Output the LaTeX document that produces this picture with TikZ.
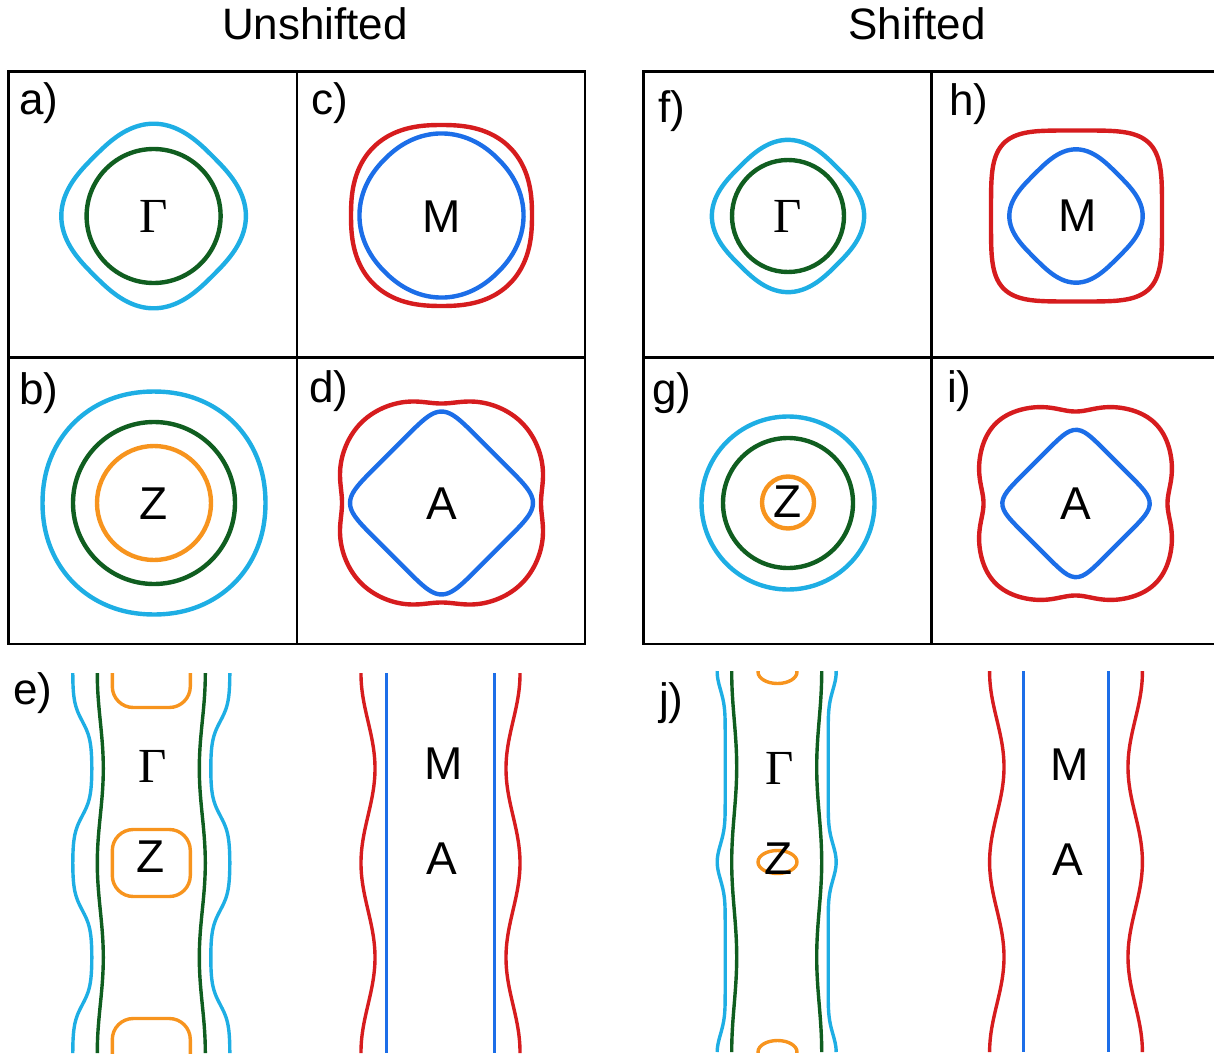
\documentclass[tikz,border=0pt]{standalone}
\usepackage{fontspec}
\setmainfont{Liberation Sans}
\newfontfamily\gfont{Liberation Serif}
\definecolor{cyc}{RGB}{30,174,228}
\definecolor{grc}{RGB}{16,94,32}
\definecolor{orc}{RGB}{247,148,30}
\definecolor{rdc}{RGB}{214,28,30}
\definecolor{blc}{RGB}{28,110,232}
\begin{document}
\begin{tikzpicture}[x=1pt,y=-1pt,
  declare function={sq(\a,\b)=1/pow(pow(abs(cos(\a)),\b)+pow(abs(sin(\a)),\b),1/\b);
                    dip(\a)=pow(abs(cos(2*\a)),8);},
  frame/.style={line width=2.6pt,black},
  fat/.style={line width=4.4pt},
  slim/.style={line width=3.4pt},
  lbl/.style={inner sep=0pt,anchor=base west,font=\fontsize{44}{50}\selectfont},
  ttl/.style={inner sep=0pt,anchor=base,font=\fontsize{44}{50}\selectfont},
  kpt/.style={inner sep=0pt,font=\fontsize{46}{50}\selectfont},
  gpt/.style={inner sep=0pt,font=\gfont\fontsize{49}{52}\selectfont},
  pol/.style={smooth cycle,domain=1:358,samples=120,variable=\t},
  vertE/.style={smooth,domain=673:1053,samples=190,variable=\t},
  vertJ/.style={smooth,domain=671:1052,samples=190,variable=\t}]
\useasboundingbox (0,0) rectangle (1214,1059);

% titles
\node[ttl] (tU) at (315,40) {Unshifted};
\node[ttl] (tS) at (917,40) {Shifted};

% frames
\draw[frame] (8.5,71.5) rectangle (585,644);
\draw[frame] (297,71.5) -- (297,644);
\draw[frame] (8.5,357.5) -- (585,357.5);
\draw[frame] (643.5,71.5) rectangle (1220,644);
\draw[frame] (931.5,71.5) -- (931.5,644);
\draw[frame] (643.5,357.5) -- (1220,357.5);

% panel labels
\node[lbl] (la) at (19,115) {a)};
\node[lbl] (lc) at (311,115) {c)};
\node[lbl] (lb) at (19,404) {b)};
\node[lbl] (ld) at (309,402) {d)};
\node[lbl] (le) at (13,704) {e)};
\node[lbl] (lf) at (658,123) {f)};
\node[lbl] (lh) at (949,116) {h)};
\node[lbl] (lg) at (652,404) {g)};
\node[lbl] (li) at (947,402) {i)};
\node[lbl] (lj) at (659,714) {j)};

% a)
\draw[cyc,fat] plot[pol] ({153.6+84*sq(\t-45,2.75)*cos(\t)},{216+84*sq(\t-45,2.75)*sin(\t)});
\draw[grc,fat] (153.6,216) circle[radius=67];
\node[gpt] (Ga) at (153.6,216) {Γ};

% c)
\draw[rdc,fat] plot[pol] ({441.5+90.5*sq(\t,2.45)*cos(\t)},{215.5+90.5*sq(\t,2.45)*sin(\t)});
\draw[blc,fat] plot[pol] ({441.5+80*sq(\t-45,2.16)*cos(\t)},{215.5+80*sq(\t-45,2.16)*sin(\t)});
\node[kpt] (Mc) at (442,216.5) {M};

% b)
\draw[cyc,fat] plot[pol] ({154+111.5*sq(\t,2.1)*cos(\t)},{503+111.5*sq(\t,2.1)*sin(\t)});
\draw[grc,fat] (154,503) circle[radius=81];
\draw[orc,fat] (154,503) circle[radius=57];
\node[kpt] (Zb) at (154,503.5) {Z};

% d)
\draw[rdc,fat] plot[pol] ({441.5+(104*sq(\t,2.68)-4.5*dip(\t))*cos(\t)},{503+(104*sq(\t,2.68)-4.5*dip(\t))*sin(\t)});
\draw[blc,fat] plot[pol] ({441.5+72*sq(\t-45,6.5)*cos(\t)},{503+72*sq(\t-45,6.5)*sin(\t)});
\node[kpt] (Ad) at (441.5,504) {A};

% f)
\draw[cyc,fat] plot[pol] ({788+69*sq(\t-45,2.8)*cos(\t)},{216+69*sq(\t-45,2.8)*sin(\t)});
\draw[grc,fat] (788,216) circle[radius=56];
\node[gpt] (Gf) at (788,216) {Γ};

% h)
\draw[rdc,fat] plot[pol] ({1076.5+85.5*sq(\t,4.3)*cos(\t)},{216+85.5*sq(\t,4.3)*sin(\t)});
\draw[blc,fat] plot[pol] ({1076+59*sq(\t-45,3.1)*cos(\t)},{216+59*sq(\t-45,3.1)*sin(\t)});
\node[kpt] (Mh) at (1077.5,216) {M};

% g)
\draw[cyc,fat] (788,503) circle[radius=86.5];
\draw[grc,fat] (788,503) circle[radius=65];
\draw[orc,fat] (788,502.5) circle[radius=26];
\node[kpt] (Zg) at (788,502) {Z};

% i)
\draw[rdc,fat] plot[pol] ({1075.5+(98*sq(\t,3.4)-6*dip(\t))*cos(\t)},{503.5+(98*sq(\t,3.4)-6*dip(\t))*sin(\t)});
\draw[blc,fat] plot[pol] ({1076+58*sq(\t-45,6.5)*cos(\t)},{503.5+58*sq(\t-45,6.5)*sin(\t)});
\node[kpt] (Ai) at (1075.5,504) {A};

% e) left
\draw[cyc,slim] plot[vertE] ({151.3-(69+10.5*tanh(1.5*cos(1.90476*(\t-863))))},{\t});
\draw[cyc,slim] plot[vertE] ({151.3+(69+10.5*tanh(1.5*cos(1.90476*(\t-863))))},{\t});
\draw[grc,slim] plot[vertE] ({151.3-(51+3*cos(1.90476*(\t-863)))},{\t});
\draw[grc,slim] plot[vertE] ({151.3+(51+3*cos(1.90476*(\t-863)))},{\t});
\begin{scope}
  \clip (100,673) rectangle (205,1053);
  \draw[orc,slim,rounded corners=21pt] (112.3,640.5) rectangle (190.3,707.5);
  \draw[orc,slim,rounded corners=21pt] (112.3,829.5) rectangle (190.3,896.5);
  \draw[orc,slim,rounded corners=21pt] (112.3,1018.5) rectangle (190.3,1085.5);
\end{scope}
\node[gpt] (Ge) at (152.7,766.7) {Γ};
\node[kpt] (Ze) at (150.7,857) {Z};

% e) right
\draw[rdc,slim] plot[vertE] ({440.5-(72.5+7*cos(1.90476*(\t-863)))},{\t});
\draw[rdc,slim] plot[vertE] ({440.5+(72.5+7*cos(1.90476*(\t-863)))},{\t});
\draw[blc,slim] (386.5,673) -- (386.5,1053);
\draw[blc,slim] (494.5,673) -- (494.5,1053);
\node[kpt] (Me) at (443.3,763.3) {M};
\node[kpt] (Ae) at (441.7,858.3) {A};

% j) left
\draw[cyc,slim] plot[vertJ] ({776.7-(51.5+8*pow((1.001+cos(1.894737*(\t-862)))/2.002,6))},{\t});
\draw[cyc,slim] plot[vertJ] ({776.7+(51.5+8*pow((1.001+cos(1.894737*(\t-862)))/2.002,6))},{\t});
\draw[grc,slim] plot[vertJ] ({776.7-(42.5+2.5*cos(1.894737*(\t-862)))},{\t});
\draw[grc,slim] plot[vertJ] ({776.7+(42.5+2.5*cos(1.894737*(\t-862)))},{\t});
\begin{scope}
  \clip (740,671) rectangle (815,1052);
  \draw[orc,slim] (777.5,672) ellipse[x radius=19.5,y radius=11.5];
  \draw[orc,slim] (777.5,862) ellipse[x radius=19.5,y radius=11.5];
  \draw[orc,slim] (777.5,1052) ellipse[x radius=19.5,y radius=11.5];
\end{scope}
\node[gpt] (Gj) at (780,768) {Γ};
\node[kpt] (Zj) at (778.5,859) {Z};

% j) right
\draw[rdc,slim] plot[vertJ] ({1066-(69.2+7.2*cos(1.894737*(\t-862)))},{\t});
\draw[rdc,slim] plot[vertJ] ({1066+(69.2+7.2*cos(1.894737*(\t-862)))},{\t});
\draw[blc,slim] (1023.5,671) -- (1023.5,1052);
\draw[blc,slim] (1108.5,671) -- (1108.5,1052);
\node[kpt] (Mj) at (1070,765) {M};
\node[kpt] (Aj) at (1068.3,860) {A};
\end{tikzpicture}
\end{document}
